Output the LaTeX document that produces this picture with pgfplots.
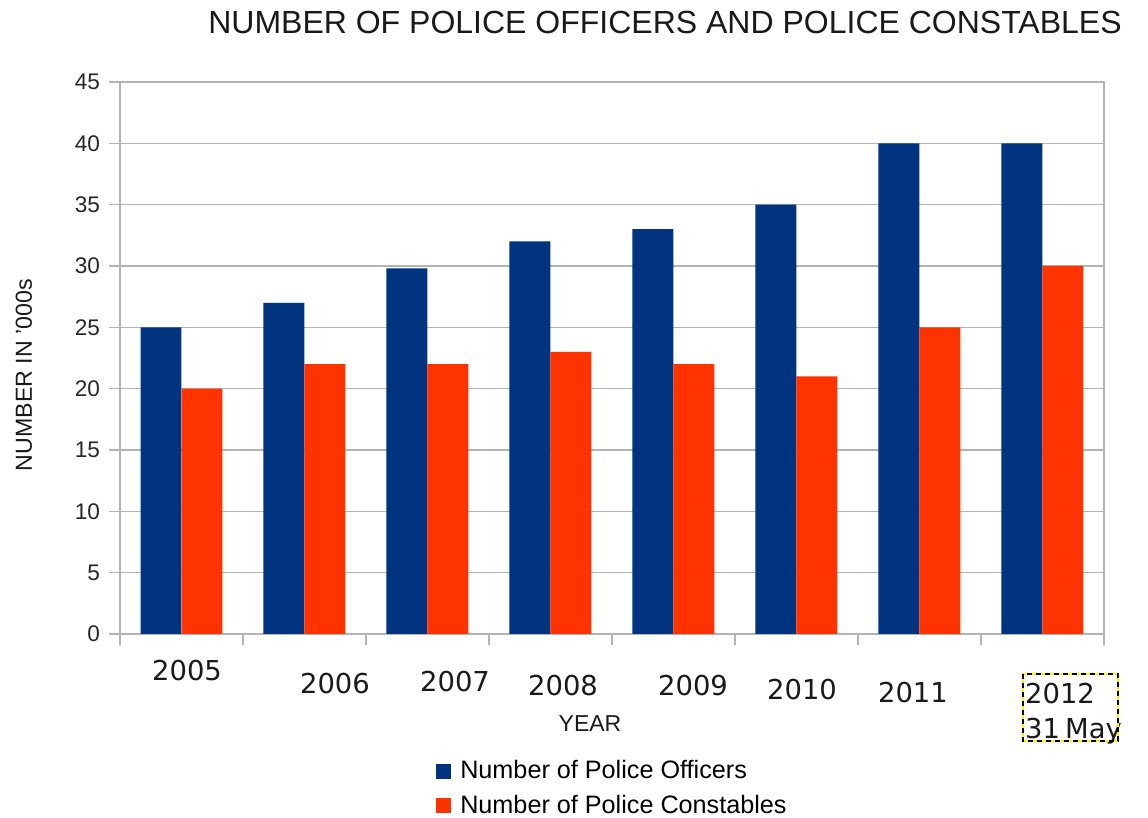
\documentclass[border=0pt]{standalone}
\usepackage{pgfplots}
\pgfplotsset{compat=1.18}
\usepackage{fontspec}
\setmainfont{Liberation Sans}
\newfontfamily\dejavu{DejaVu Sans}
\definecolor{offblue}{HTML}{003380}
\definecolor{conred}{HTML}{FF3300}
\definecolor{gridgray}{HTML}{B3B3B3}
\begin{document}
\begin{tikzpicture}
\useasboundingbox (0,0) rectangle (574pt,409pt);
\begin{axis}[
  at={(60pt,92pt)}, anchor=south west,
  scale only axis, width=492pt, height=276pt,
  clip=false,
  xmin=-0.5, xmax=7.5, ymin=0, ymax=45,
  ybar=0pt, bar width=0.3333,
  xtick={-0.5,0.5,...,7.5}, xticklabels={},
  ytick={0,5,...,45},
  tick align=outside, xtick pos=bottom, ytick pos=left,
  major tick length=5.5pt,
  tick style={gridgray, line width=0.6pt},
  axis line style={gridgray, line width=0.6pt},
  ymajorgrids, grid style={gridgray, line width=0.6pt},
  /pgf/number format/assume math mode=true,
  yticklabel style={font=\fontsize{11.3}{13}\selectfont, color=black!85, xshift=-1pt},
  legend style={at={(0.319,-0.218)}, anchor=north west, draw=none,
    font=\fontsize{12.6}{14.5}\selectfont, row sep=2.5pt, inner sep=1pt},
  legend cell align=left,
  legend image code/.code={\fill[#1] (0pt,-3.6pt) rectangle (7.2pt,3.6pt); \path (10pt,0pt);},
]
\addplot[fill=offblue, draw=none, bar shift=-0.16667] coordinates {(0,25) (1,27) (2,29.8) (3,32) (4,33) (5,35) (6,40) (7,40)};
\addplot[fill=conred, draw=none, bar shift=0.16667] coordinates {(0,20) (1,22) (2,22) (3,23) (4,22) (5,21) (6,25) (7,30)};
\legend{Number of Police Officers, Number of Police Constables}
\begin{scope}[every node/.style={font=\dejavu\fontsize{13.7}{17.2}\selectfont, inner sep=0pt, text=black!90}]
\node at (axis cs:0.045,0) [yshift=-18.5pt] {2005};
\node at (axis cs:1.248,0) [yshift=-25pt] {2006};
\node at (axis cs:2.224,0) [yshift=-24pt] {2007};
\node at (axis cs:3.102,0) [yshift=-26pt] {2008};
\node at (axis cs:4.159,0) [yshift=-26pt] {2009};
\node at (axis cs:5.045,0) [yshift=-28pt] {2010};
\node at (axis cs:5.947,0) [yshift=-29.5pt] {2011};
\node at (axis cs:6.84,0) [yshift=-23.5pt, anchor=north west, align=left, inner sep=1pt] {2012\\31\hspace{2.6pt}May};
\end{scope}
\end{axis}
\draw[yellow, line width=0.7pt] (511.5pt,72pt) rectangle (559pt,38.5pt);
\draw[black, line width=0.7pt, dash pattern=on 2.5pt off 2pt] (511.5pt,72pt) rectangle (559pt,38.5pt);
\node[font=\fontsize{16}{18}\selectfont, text=black!90] at (332.5pt,398pt) {NUMBER OF POLICE OFFICERS AND POLICE CONSTABLES};
\node[font=\fontsize{11.6}{13}\selectfont, rotate=90, text=black!90] at (12pt,221.5pt) {NUMBER IN '000s};
\node[font=\fontsize{11.5}{13.5}\selectfont, text=black!90] at (295pt,47pt) {YEAR};
\end{tikzpicture}
\end{document}
